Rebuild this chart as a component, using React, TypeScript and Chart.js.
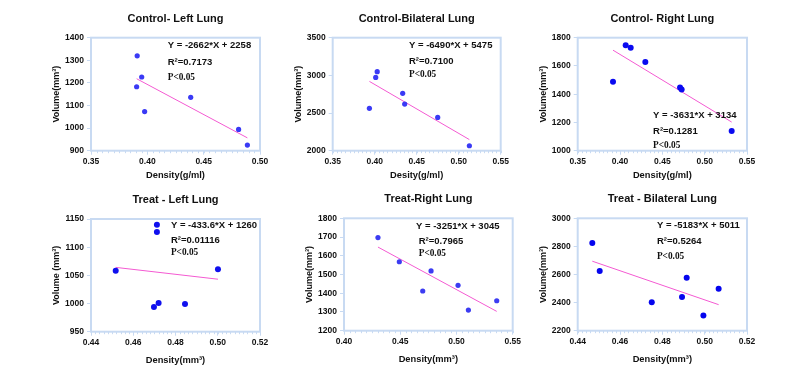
import React, { useEffect, useRef } from 'react';
import { Chart, registerables } from 'chart.js';

Chart.register(...registerables);

// ---------- data ----------
const panelTitles = [
  'Control- Left Lung',
  'Control-Bilateral Lung',
  'Control- Right Lung',
  'Treat - Left Lung',
  'Treat-Right Lung',
  'Treat - Bilateral Lung',
];
const xTitles = ['Density(g/ml)', 'Desity(g/ml)', 'Density(g/ml)', 'Density(mm³)', 'Density(mm³)', 'Density(mm³)'];
const yTitles = ['Volume(mm³)', 'Volume(mm³)', 'Volume(mm³)', 'Volume (mm³)', 'Volume(mm³)', 'Volume(mm³)'];

const ctlLeftX = [0.391, 0.395, 0.3905, 0.3976, 0.4385, 0.481, 0.4888];
const ctlLeftY = [1320, 1226, 1183, 1073, 1136, 994, 925];
const ctlBiX = [0.403, 0.4012, 0.3937, 0.4333, 0.4357, 0.475, 0.5127];
const ctlBiY = [3049, 2973, 2562, 2761, 2619, 2442, 2066];
const ctlRightX = [0.4067, 0.4126, 0.3917, 0.4299, 0.4709, 0.4728, 0.5319];
const ctlRightY = [1746, 1729, 1488, 1628, 1448, 1434, 1139];
const trtLeftX = [0.4712, 0.4712, 0.4517, 0.5001, 0.4698, 0.472, 0.4845];
const trtLeftY = [1140, 1127, 1058, 1061, 994, 1001, 999];
const trtRightX = [0.4302, 0.4492, 0.47, 0.4774, 0.5014, 0.5106, 0.5358];
const trtRightY = [1697, 1568, 1412, 1519, 1442, 1310, 1360];
const trtBiX = [0.4469, 0.4504, 0.475, 0.4893, 0.4915, 0.4994, 0.5066];
const trtBiY = [2824, 2625, 2402, 2440, 2577, 2309, 2499];

const seriesX = [ctlLeftX, ctlBiX, ctlRightX, trtLeftX, trtRightX, trtBiX];
const seriesY = [ctlLeftY, ctlBiY, ctlRightY, trtLeftY, trtRightY, trtBiY];

const slopes = [-2662, -6490, -3631, -433.6, -3251, -5183];
const intercepts = [2258, 5475, 3134, 1260, 3045, 5011];
const equationLabels = [
  'Y = -2662*X + 2258',
  'Y = -6490*X + 5475',
  'Y = -3631*X + 3134',
  'Y = -433.6*X + 1260',
  'Y = -3251*X + 3045',
  'Y = -5183*X + 5011',
];
const r2Labels = ['R²=0.7173', 'R²=0.7100', 'R²=0.1281', 'R²=0.01116', 'R²=0.7965', 'R²=0.5264'];
const pLabel = 'P<0.05';

const xMins = [0.35, 0.35, 0.35, 0.44, 0.4, 0.44];
const xMaxs = [0.5, 0.55, 0.55, 0.52, 0.55, 0.52];
const xSteps = [0.05, 0.05, 0.05, 0.02, 0.05, 0.02];
const yMins = [900, 2000, 1000, 950, 1200, 2200];
const yMaxs = [1400, 3500, 1800, 1150, 1800, 3000];
const ySteps = [100, 500, 200, 50, 100, 200];

// ---------- layout / style ----------
const W = 793;
const H = 381;
const YAXIS_W = 40;
const XAXIS_H = 20;
const areas = [
  { l: 91, r: 260, t: 37.7, b: 150.7 },
  { l: 332.7, r: 500.7, t: 37.7, b: 150.7 },
  { l: 577.7, r: 747, t: 37.7, b: 150.7 },
  { l: 91, r: 260, t: 219, b: 331.7 },
  { l: 344, r: 512.7, t: 218.3, b: 330.7 },
  { l: 577.7, r: 747, t: 218.3, b: 330.7 },
];
const annoPos = [
  { fx: [0.454, 0.454, 0.454], fy: [0.065, 0.218, 0.354] },
  { fx: [0.454, 0.454, 0.454], fy: [0.065, 0.206, 0.33] },
  { fx: [0.445, 0.445, 0.445], fy: [0.69, 0.83, 0.956] },
  { fx: [0.473, 0.473, 0.473], fy: [0.06, 0.186, 0.296] },
  { fx: [0.427, 0.443, 0.443], fy: [0.075, 0.208, 0.318] },
  { fx: [0.468, 0.468, 0.468], fy: [0.06, 0.208, 0.34] },
];
const xTitleOffsets = [24.3, 24.3, 24.3, 28.5, 28.8, 28.8];
const pointColors = ['#3a3af5', '#3a3af5', '#0a0af0', '#1010ee', '#3c3cf2', '#0505ee'];
const pointRadii = [2.6, 2.6, 3, 3, 2.6, 3];
const AXIS = '#c8daf2';
const LINE = '#f45ad2';
const SANS = '"Liberation Sans", Arial, sans-serif';
const SERIF = '"Liberation Serif", "Times New Roman", serif';

function makePlugin(i: number) {
  return {
    id: 'deco' + i,
    beforeDatasetsDraw(chart: any) {
      const { ctx, chartArea: a, scales } = chart;
      ctx.save();
      // minor ticks on x
      const xs = scales.x;
      const minor = xSteps[i] / 10;
      const n = Math.round((xMaxs[i] - xMins[i]) / minor);
      ctx.strokeStyle = AXIS;
      ctx.lineWidth = 1;
      for (let k = 0; k <= n; k++) {
        const px = Math.round(xs.getPixelForValue(xMins[i] + k * minor)) + 0.5;
        ctx.beginPath();
        ctx.moveTo(px, a.bottom);
        ctx.lineTo(px, a.bottom + 2.5);
        ctx.stroke();
      }
      // frame
      ctx.lineWidth = 2;
      ctx.strokeRect(a.left, a.top, a.right - a.left, a.bottom - a.top);
      ctx.restore();
    },
    afterDraw(chart: any) {
      const { ctx, chartArea: a } = chart;
      const cw = a.right - a.left;
      const ch = a.bottom - a.top;
      ctx.save();
      ctx.fillStyle = '#111';
      ctx.textBaseline = 'middle';
      // title
      ctx.textAlign = 'center';
      ctx.font = `bold 11px ${SANS}`;
      ctx.fillText(panelTitles[i], (a.left + a.right) / 2, a.top - 19);
      // x title
      ctx.font = `bold 9.3px ${SANS}`;
      ctx.fillText(xTitles[i], (a.left + a.right) / 2, a.bottom + xTitleOffsets[i]);
      // y title
      ctx.save();
      ctx.translate(a.left - 34, (a.top + a.bottom) / 2);
      ctx.rotate(-Math.PI / 2);
      ctx.font = `bold 9px ${SANS}`;
      ctx.fillText(yTitles[i], 0, 0);
      ctx.restore();
      // annotations
      const p = annoPos[i];
      ctx.textAlign = 'left';
      ctx.font = `bold 9.5px ${SANS}`;
      ctx.fillText(equationLabels[i], a.left + p.fx[0] * cw, a.top + p.fy[0] * ch);
      ctx.fillText(r2Labels[i], a.left + p.fx[1] * cw, a.top + p.fy[1] * ch);
      ctx.font = `bold 9.3px ${SERIF}`;
      ctx.fillText(pLabel, a.left + p.fx[2] * cw, a.top + p.fy[2] * ch);
      ctx.restore();
    },
  };
}

function Panel({ i }: { i: number }) {
  const ref = useRef<HTMLCanvasElement>(null);
  useEffect(() => {
    const xsData = seriesX[i];
    const ysData = seriesY[i];
    const pts = xsData.map((x, k) => ({ x, y: ysData[k] }));
    const lo = Math.min(...xsData);
    const hi = Math.max(...xsData);
    const fit = [
      { x: lo, y: slopes[i] * lo + intercepts[i] },
      { x: hi, y: slopes[i] * hi + intercepts[i] },
    ];
    const a = areas[i];
    const tickFont = { family: SANS, size: 8.5, weight: 'bold' as const };
    const chart = new Chart(ref.current as HTMLCanvasElement, {
      type: 'scatter',
      data: {
        datasets: [
          {
            data: pts,
            backgroundColor: pointColors[i],
            borderColor: pointColors[i],
            pointRadius: pointRadii[i],
            pointBorderWidth: 0,
            order: 0,
          },
          {
            type: 'line',
            data: fit,
            borderColor: LINE,
            borderWidth: 1,
            pointRadius: 0,
            fill: false,
            order: 1,
          } as any,
        ],
      },
      options: {
        responsive: false,
        animation: false,
        devicePixelRatio: 1,
        events: [],
        layout: {
          padding: {
            left: a.l - YAXIS_W,
            right: W - a.r,
            top: a.t,
            bottom: H - a.b - XAXIS_H,
          },
        },
        plugins: { legend: { display: false }, tooltip: { enabled: false }, title: { display: false } },
        scales: {
          x: {
            type: 'linear',
            min: xMins[i],
            max: xMaxs[i],
            afterFit: (s: any) => {
              s.height = XAXIS_H;
            },
            ticks: {
              stepSize: xSteps[i],
              color: '#111',
              font: tickFont,
              padding: 2,
              maxRotation: 0,
              callback: (v: any) => Number(v).toFixed(2),
            },
            grid: { drawOnChartArea: false, drawTicks: true, tickLength: 4, color: AXIS, lineWidth: 1 },
            border: { display: false },
          },
          y: {
            type: 'linear',
            min: yMins[i],
            max: yMaxs[i],
            afterFit: (s: any) => {
              s.width = YAXIS_W;
            },
            ticks: {
              stepSize: ySteps[i],
              color: '#111',
              font: tickFont,
              padding: 3,
              callback: (v: any) => String(v),
            },
            grid: { drawOnChartArea: false, drawTicks: true, tickLength: 4, color: AXIS, lineWidth: 1 },
            border: { display: false },
          },
        },
      },
      plugins: [makePlugin(i)],
    });
    return () => chart.destroy();
  }, [i]);
  return (
    <canvas
      ref={ref}
      width={W}
      height={H}
      style={{ position: 'absolute', left: 0, top: 0, width: W, height: H }}
    />
  );
}

export default function App() {
  return (
    <div style={{ position: 'absolute', left: 0, top: 0, width: W, height: H, background: '#fff' }}>
      {panelTitles.map((_, i) => (
        <Panel key={i} i={i} />
      ))}
    </div>
  );
}
